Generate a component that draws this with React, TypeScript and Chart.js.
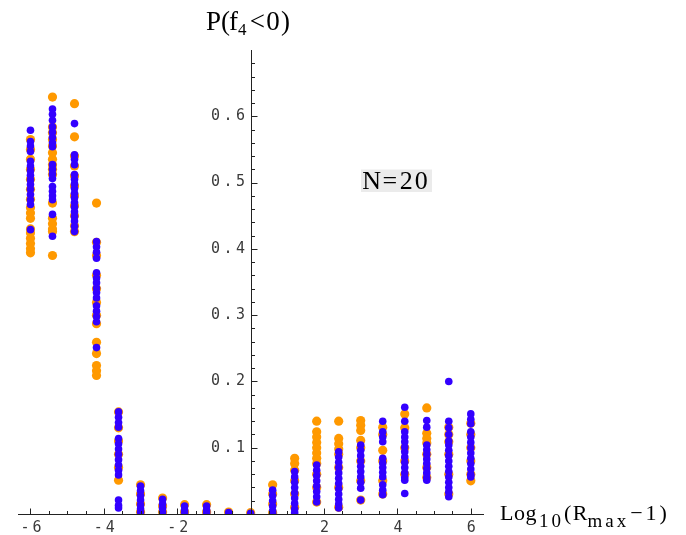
import React, { useEffect, useRef } from 'react';
import { Chart, registerables } from 'chart.js';

Chart.register(...registerables);

// Column positions: Log10(Rmax - 1)
const columnX = [-6, -5.4, -4.8, -4.2, -3.6, -3.0, -2.4, -1.8, -1.2, -0.6, 0, 0.6, 1.2, 1.8, 2.4, 3.0, 3.6, 4.2, 4.8, 5.4, 6.0];

// P(f4<0) values, orange series (one list per column)
const orangeByColumn: number[][] = [
  [0.565, 0.55, 0.535, 0.52, 0.505, 0.49, 0.475, 0.462, 0.454, 0.446, 0.43, 0.424, 0.416, 0.408, 0.4, 0.394],
  [0.629, 0.584, 0.575, 0.565, 0.555, 0.545, 0.535, 0.527, 0.52, 0.512, 0.469, 0.446, 0.438, 0.43, 0.426, 0.39],
  [0.619, 0.569, 0.54, 0.525, 0.51, 0.495, 0.48, 0.465, 0.45, 0.435, 0.426],
  [0.469, 0.41, 0.39, 0.36, 0.34, 0.319, 0.3, 0.287, 0.259, 0.242, 0.224, 0.216, 0.209],
  [0.154, 0.13, 0.11, 0.09, 0.07, 0.051],
  [0.044, 0.03, 0.015, 0.003],
  [0.024, 0.012, 0.003],
  [0.014, 0.003],
  [0.014, 0.003],
  [0.003],
  [0.002],
  [0.044, 0.03, 0.015, 0.002],
  [0.084, 0.076, 0.066, 0.05, 0.03, 0.01],
  [0.14, 0.124, 0.116, 0.108, 0.1, 0.092, 0.084, 0.076, 0.06, 0.04, 0.018],
  [0.14, 0.114, 0.106, 0.098, 0.09, 0.07, 0.04, 0.01],
  [0.141, 0.134, 0.126, 0.111, 0.1, 0.08, 0.05, 0.021],
  [0.131, 0.12, 0.096, 0.08, 0.05, 0.03],
  [0.151, 0.13, 0.1, 0.08, 0.06],
  [0.16, 0.122, 0.114, 0.107, 0.09, 0.07, 0.055],
  [0.131, 0.12, 0.109, 0.09, 0.06, 0.03],
  [0.137, 0.12, 0.1, 0.08, 0.06, 0.05],
];

// P(f4<0) values, blue series (one list per column)
const blueByColumn: number[][] = [
  [0.579, 0.562, 0.555, 0.547, 0.532, 0.525, 0.518, 0.511, 0.504, 0.497, 0.49, 0.482, 0.474, 0.467, 0.429],
  [0.611, 0.603, 0.594, 0.584, 0.576, 0.568, 0.56, 0.554, 0.527, 0.52, 0.513, 0.506, 0.494, 0.487, 0.48, 0.474, 0.452, 0.419],
  [0.589, 0.542, 0.535, 0.527, 0.512, 0.505, 0.498, 0.491, 0.484, 0.477, 0.47, 0.463, 0.456, 0.449, 0.442, 0.434, 0.426],
  [0.411, 0.403, 0.395, 0.386, 0.364, 0.356, 0.349, 0.341, 0.334, 0.326, 0.314, 0.306, 0.298, 0.29, 0.251],
  [0.154, 0.146, 0.138, 0.131, 0.114, 0.106, 0.098, 0.09, 0.082, 0.074, 0.066, 0.059, 0.021, 0.013, 0.009],
  [0.042, 0.035, 0.028, 0.021, 0.014, 0.008, 0.003],
  [0.022, 0.015, 0.009, 0.003],
  [0.012, 0.006, 0.002],
  [0.012, 0.006, 0.002],
  [0.002],
  [0.001],
  [0.036, 0.028, 0.02, 0.012, 0.005, 0.001],
  [0.064, 0.056, 0.048, 0.04, 0.032, 0.024, 0.016, 0.008, 0.002],
  [0.074, 0.066, 0.058, 0.05, 0.042, 0.034, 0.026, 0.018],
  [0.094, 0.086, 0.078, 0.07, 0.062, 0.054, 0.046, 0.038, 0.03, 0.022, 0.015, 0.009],
  [0.104, 0.096, 0.088, 0.08, 0.072, 0.064, 0.056, 0.048, 0.039, 0.021],
  [0.14, 0.124, 0.116, 0.109, 0.084, 0.077, 0.07, 0.063, 0.056, 0.044, 0.036, 0.029],
  [0.161, 0.14, 0.124, 0.116, 0.109, 0.101, 0.094, 0.086, 0.078, 0.07, 0.062, 0.055, 0.051, 0.031],
  [0.141, 0.131, 0.104, 0.097, 0.09, 0.083, 0.076, 0.069, 0.062, 0.055, 0.051],
  [0.2, 0.14, 0.13, 0.12, 0.11, 0.104, 0.096, 0.088, 0.08, 0.072, 0.064, 0.056, 0.048, 0.04, 0.033, 0.026],
  [0.151, 0.143, 0.136, 0.124, 0.116, 0.108, 0.1, 0.092, 0.084, 0.076, 0.068, 0.06, 0.056],
];

const xTickValues = [-6, -4, -2, 2, 4, 6];
const xTickLabels = ['-6', '-4', '-2', '2', '4', '6'];
const yTickValues = [0.1, 0.2, 0.3, 0.4, 0.5, 0.6];
const yTickLabels = ['0.1', '0.2', '0.3', '0.4', '0.5', '0.6'];

const ORANGE = '#ff9900';
const BLUE = '#3300ff';

function toPoints(byColumn: number[][]) {
  const pts: { x: number; y: number }[] = [];
  byColumn.forEach((vals, i) => vals.forEach((v) => pts.push({ x: columnX[i], y: v })));
  return pts;
}

type Part = { t: string; size: number; dy?: number; gap?: number; ls?: number };

function drawRich(ctx: CanvasRenderingContext2D, x: number, baseline: number, parts: Part[]) {
  let cx = x;
  ctx.textBaseline = 'alphabetic';
  ctx.textAlign = 'left';
  for (const p of parts) {
    ctx.font = `${p.size}px "Liberation Serif", "Times New Roman", serif`;
    const ls = p.ls || 0;
    for (let i = 0; i < p.t.length; i++) {
      const ch = p.t[i];
      ctx.fillText(ch, cx, baseline + (p.dy || 0));
      cx += ctx.measureText(ch).width + (i < p.t.length - 1 ? ls : 0);
    }
    cx += p.gap || 0;
  }
}

function drawSpaced(ctx: CanvasRenderingContext2D, text: string, centerX: number, centerY: number, advance: number) {
  const n = text.length;
  const start = centerX - ((n - 1) * advance) / 2;
  ctx.textAlign = 'center';
  ctx.textBaseline = 'middle';
  for (let i = 0; i < n; i++) ctx.fillText(text[i], start + i * advance, centerY);
}

const axesPlugin = {
  id: 'mmaAxes',
  afterDatasetsDraw(chart: any) {
    const ctx: CanvasRenderingContext2D = chart.ctx;
    const xs = chart.scales.x;
    const ys = chart.scales.y;
    const area = chart.chartArea;
    const x0 = Math.round(xs.getPixelForValue(0)) + 0.5;
    const y0 = Math.round(ys.getPixelForValue(0)) + 0.5;
    ctx.save();
    ctx.strokeStyle = '#222';
    ctx.lineWidth = 1;
    ctx.beginPath();
    ctx.moveTo(area.left, y0);
    ctx.lineTo(area.right, y0);
    ctx.moveTo(x0, area.top);
    ctx.lineTo(x0, y0);
    // x ticks every 0.5
    for (let i = -12; i <= 12; i++) {
      if (i === 0) continue;
      const px = Math.round(xs.getPixelForValue(i * 0.5)) + 0.5;
      const len = i % 4 === 0 ? 6 : 3.5;
      ctx.moveTo(px, y0);
      ctx.lineTo(px, y0 - len);
    }
    // y ticks every 0.02
    for (let j = 1; j <= 34; j++) {
      const py = Math.round(ys.getPixelForValue(j * 0.02)) + 0.5;
      const len = j % 5 === 0 ? 6 : 3.5;
      ctx.moveTo(x0, py);
      ctx.lineTo(x0 + len, py);
    }
    ctx.stroke();

    ctx.fillStyle = '#3a3a3a';
    ctx.font = '15px "DejaVu Sans Mono", monospace';
    xTickValues.forEach((v, i) => {
      const px = xs.getPixelForValue(v);
      drawSpaced(ctx, xTickLabels[i], px + 0.5, y0 + 14, 12);
    });
    yTickValues.forEach((v, i) => {
      const py = ys.getPixelForValue(v);
      const lab = yTickLabels[i];
      const advance = 12.5;
      const cx = x0 - 11 - ((lab.length - 1) * advance) / 2;
      drawSpaced(ctx, lab, cx, py, advance);
    });

    ctx.fillStyle = '#000';
    // y-axis label
    drawRich(ctx, 206, 29.5, [
      { t: 'P', size: 27 },
      { t: '(', size: 27, gap: -1 },
      { t: 'f', size: 27 },
      { t: '4', size: 17, dy: 5.5, gap: 3.2 },
      { t: '<', size: 27, gap: 1.2 },
      { t: '0', size: 27, gap: 1.3 },
      { t: ')', size: 27 },
    ]);
    // x-axis label
    drawRich(ctx, 500, 519.5, [
      { t: 'Log', size: 22, ls: 0.5, gap: 2.5 },
      { t: '10', size: 19, ls: 3, dy: 7.5, gap: 3 },
      { t: '(', size: 22, gap: 1.5 },
      { t: 'R', size: 22 },
      { t: 'max', size: 19, ls: 3, dy: 7.5, gap: 4 },
      { t: '\u2212', size: 22, gap: 3 },
      { t: '1', size: 22, gap: 3 },
      { t: ')', size: 22 },
    ]);
    // N=20 box
    ctx.fillStyle = '#ebebeb';
    ctx.fillRect(361, 169.5, 71, 22.5);
    ctx.fillStyle = '#000';
    drawRich(ctx, 362.3, 189.3, [
      { t: 'N', size: 26, gap: 1.5 },
      { t: '=', size: 26, gap: 2.5 },
      { t: '20', size: 26, ls: 2 },
    ]);
    ctx.restore();
  },
};

export default function App() {
  const ref = useRef<HTMLCanvasElement | null>(null);
  useEffect(() => {
    if (!ref.current) return;
    const chart = new Chart(ref.current, {
      type: 'scatter',
      data: {
        datasets: [
          {
            label: 'blue',
            data: toPoints(blueByColumn),
            backgroundColor: BLUE,
            borderWidth: 0,
            pointRadius: 3.8,
            clip: { left: 10, right: 10, top: 10, bottom: 0 } as any,
          },
          {
            label: 'orange',
            data: toPoints(orangeByColumn),
            backgroundColor: ORANGE,
            borderWidth: 0,
            pointRadius: 4.6,
            clip: { left: 10, right: 10, top: 10, bottom: 0 } as any,
          },
        ],
      },
      options: {
        responsive: false,
        maintainAspectRatio: false,
        devicePixelRatio: 1,
        animation: false,
        layout: { padding: { left: 18, right: 202, top: 50, bottom: 21 } },
        plugins: { legend: { display: false }, tooltip: { enabled: false }, title: { display: false } },
        scales: {
          x: { type: 'linear', min: -6.34, max: 6.36, display: false },
          y: { type: 'linear', min: 0, max: 0.7, display: false },
        },
      },
      plugins: [axesPlugin],
    });
    return () => chart.destroy();
  }, []);
  return (
    <div style={{ position: 'absolute', left: 0, top: 0, width: 686, height: 535, background: '#fff' }}>
      <canvas ref={ref} width={686} height={535} style={{ display: 'block', width: 686, height: 535 }} />
    </div>
  );
}
